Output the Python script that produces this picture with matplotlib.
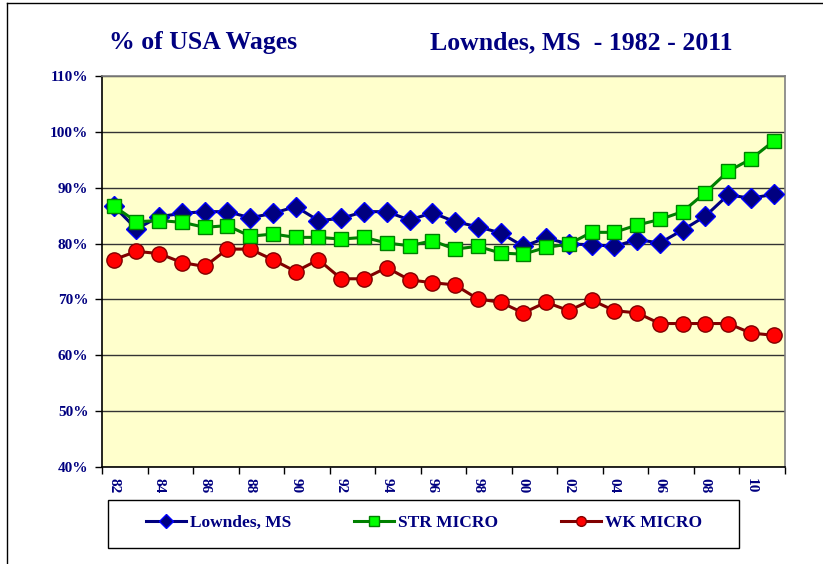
import matplotlib
matplotlib.use("Agg")
import matplotlib.pyplot as plt
from matplotlib.lines import Line2D
from matplotlib.patches import Rectangle

years = list(range(1982, 2012))
tick_labels = ["82", "84", "86", "88", "90", "92", "94", "96", "98", "00",
               "02", "04", "06", "08", "10"]

lowndes = [86.7, 82.6, 84.8, 85.4, 85.7, 85.7, 84.6, 85.4, 86.6, 84.1,
           84.5, 85.7, 85.7, 84.2, 85.5, 83.9, 83.0, 81.9, 79.5, 81.0,
           79.9, 79.8, 79.5, 80.7, 80.1, 82.4, 84.9, 88.7, 88.1, 88.8]
str_micro = [86.7, 83.9, 84.1, 83.8, 82.9, 83.2, 81.3, 81.7, 81.1, 81.1,
             80.8, 81.1, 80.1, 79.6, 80.5, 79.0, 79.5, 78.3, 78.1, 79.3,
             79.9, 82.0, 82.0, 83.3, 84.3, 85.7, 89.1, 92.9, 95.1, 98.3]
wk_micro = [77.1, 78.6, 78.2, 76.6, 75.9, 79.0, 79.0, 77.1, 75.0, 77.1,
            73.7, 73.7, 75.7, 73.5, 73.0, 72.6, 70.1, 69.5, 67.6, 69.5,
            68.0, 69.9, 68.0, 67.6, 65.7, 65.7, 65.7, 65.7, 64.0, 63.6]

NAVY = "#000080"
W, H = 823, 564
fig = plt.figure(figsize=(W / 100, H / 100), dpi=100)
fig.patch.set_facecolor("white")

# outer border
fig.add_artist(Line2D([7 / W, 7 / W], [0, 1 - 3 / H], color="black", lw=1.0, transform=fig.transFigure))
fig.add_artist(Line2D([7 / W, 1], [1 - 3 / H, 1 - 3 / H], color="black", lw=1.0, transform=fig.transFigure))

left, right, top, bottom = 102.3, 785, 75.7, 467.3
ax = fig.add_axes([left / W, 1 - bottom / H, (right - left) / W, (bottom - top) / H])
ax.set_facecolor("#FFFFCC")

x = list(range(len(years)))
ax.plot(x, lowndes, color=NAVY, lw=2.2, marker="D", ms=10, mfc=NAVY, mec="#0000FF", mew=1.0,
        label="Lowndes, MS", zorder=3)
ax.plot(x, str_micro, color="#008000", lw=2.2, marker="s", ms=9.5, mfc="#00FF00", mec="#008000", mew=1.0,
        label="STR MICRO", zorder=4)
ax.plot(x, wk_micro, color="#800000", lw=2.2, marker="o", ms=11, mfc="#FF0000", mec="#800000", mew=1.0,
        label="WK MICRO", zorder=3)

ax.set_xlim(-0.5, len(years) - 0.5)
ax.set_ylim(40, 110)
yt = list(range(40, 111, 10))
ax.set_yticks(yt)
ax.set_yticklabels([f"{v}%" for v in yt])
ax.yaxis.grid(True, color="#333333", lw=1.0)
ax.set_axisbelow(True)

ax.set_xticks(list(range(0, len(years), 2)))
ax.set_xticklabels(tick_labels, rotation=-90)
ax.set_xticks([i - 0.5 for i in range(0, len(years) + 1, 2)], minor=True)
ax.tick_params(axis="x", which="major", length=0, pad=8)
ax.tick_params(axis="x", which="minor", length=5, width=1, color="black", direction="out")
ax.tick_params(axis="y", length=5, width=1, direction="out", pad=5)

for lab in ax.get_xticklabels() + ax.get_yticklabels():
    lab.set_fontfamily("Liberation Serif")
    lab.set_fontweight("bold")
    lab.set_color(NAVY)
    lab.set_fontsize(11)

ax.spines["left"].set_color("black")
ax.spines["bottom"].set_color("black")
ax.spines["top"].set_color("#808080")
ax.spines["right"].set_color("#808080")
for s in ax.spines.values():
    s.set_linewidth(1.2)

fig.text(109 / W, 1 - 49 / H, "% of USA Wages", fontfamily="Liberation Serif", fontweight="bold",
         fontsize=18.5, color=NAVY, ha="left", va="baseline")
fig.text(430 / W, 1 - 49 / H, "Lowndes, MS  - 1982 - 2011", fontfamily="Liberation Serif", fontweight="bold",
         fontsize=18.5, color=NAVY, ha="left", va="baseline")

lx0, lx1, ly0, ly1 = 107.7, 739, 500, 548
fig.add_artist(Rectangle((lx0 / W, 1 - ly1 / H), (lx1 - lx0) / W, (ly1 - ly0) / H,
                         transform=fig.transFigure, facecolor="white", edgecolor="black", lw=1.0, zorder=1))
leg = fig.legend(loc="center", bbox_to_anchor=(424 / W, 1 - 523 / H),
                 ncol=3, frameon=False, borderaxespad=0,
                 handlelength=2.3, handletextpad=0.25, columnspacing=3.6,
                 prop={"family": "Liberation Serif", "weight": "bold", "size": 12.5})
leg.set_zorder(2)
for t in leg.get_texts():
    t.set_color(NAVY)
for h in leg.legend_handles:
    h.set_markersize(7)

fig.savefig("out.png", dpi=100)
